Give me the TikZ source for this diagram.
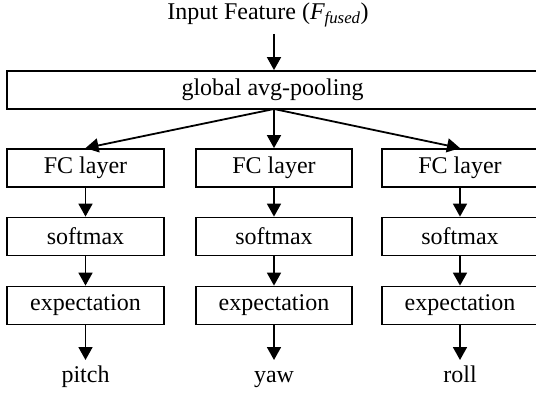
\documentclass[tikz,border=0pt]{standalone}
\usepackage{fontspec}
\setmainfont{Liberation Serif}
\usetikzlibrary{arrows.meta}
\tikzset{
  blk/.style={draw, line width=1.8pt, rectangle, minimum height=38pt, inner sep=0pt,
    font=\fontsize{24}{28}\selectfont},
  lbl/.style={inner sep=0pt, anchor=base, font=\fontsize{24}{28}\selectfont},
  flow/.style={line width=1.8pt, -{Triangle[length=13pt,width=14pt]}}
}
\begin{document}
\begin{tikzpicture}[x=1pt, y=-1pt]
\useasboundingbox (0,0) rectangle (536,393);

% input label and pooling stage
\node[lbl] (inp) at (268,20) {Input Feature ($\mathit{F}_{\mathit{fused}}$)};
\coordinate (inpend) at (274,34);
\node[blk, minimum width=531pt] (gap) at (272.5,90) {global avg-pooling};
\coordinate (split) at (274,109);

% three heads: pitch, yaw, roll
\foreach \n/\x/\w/\out in {a/85.5/157/pitch, b/274/156/yaw, c/460/156/roll}{
  \node[blk, minimum width=\w pt] (fc\n) at (\x,168) {FC layer};
  \node[blk, minimum width=\w pt] (sm\n) at (\x,236.5) {softmax};
  \node[blk, minimum width=\w pt] (ex\n) at (\x,305.5) {expectation};
  \node[lbl] (out\n) at (\x,382) {\out};
  \coordinate (tip\n) at (\x,360);
  \draw[flow] (split) -- (fc\n.north);
  \draw[flow] (fc\n) -- (sm\n);
  \draw[flow] (sm\n) -- (ex\n);
  \draw[flow] (ex\n) -- (tip\n);
}

\draw[flow] (inpend) -- (gap.north -| inpend);
\end{tikzpicture}
\end{document}
